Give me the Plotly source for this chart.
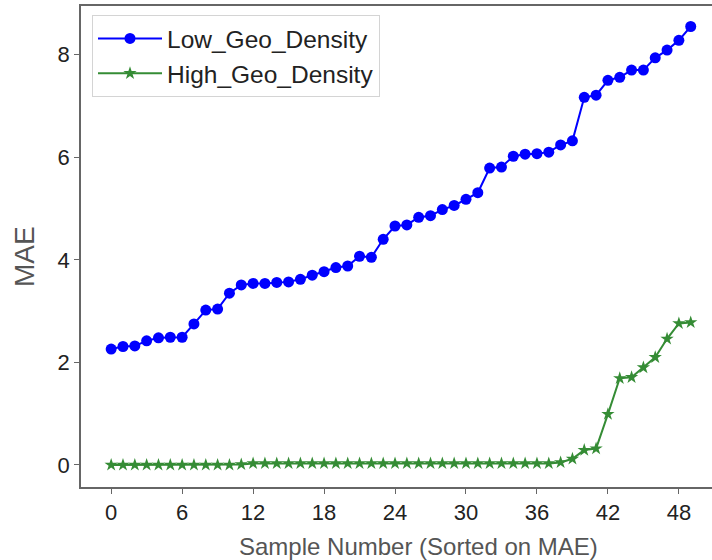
import plotly.graph_objects as go

sample_idx = list(range(50))
low_geo_density = [2.26, 2.31, 2.32, 2.42, 2.48, 2.49, 2.49, 2.75, 3.02, 3.04,
                   3.35, 3.51, 3.54, 3.54, 3.56, 3.57, 3.62, 3.70, 3.77, 3.85,
                   3.88, 4.07, 4.05, 4.40, 4.66, 4.68, 4.83, 4.86, 4.98, 5.06,
                   5.18, 5.31, 5.79, 5.81, 6.02, 6.06, 6.07, 6.10, 6.24, 6.32,
                   7.17, 7.21, 7.50, 7.56, 7.70, 7.70, 7.94, 8.09, 8.28, 8.55]
high_geo_density = [0.00, 0.00, 0.00, 0.00, 0.00, 0.00, 0.00, 0.00, 0.00, 0.00,
                    0.00, 0.01, 0.03, 0.03, 0.03, 0.03, 0.03, 0.03, 0.03, 0.03,
                    0.03, 0.03, 0.03, 0.03, 0.03, 0.03, 0.03, 0.03, 0.03, 0.03,
                    0.03, 0.03, 0.03, 0.03, 0.03, 0.03, 0.03, 0.03, 0.05, 0.12,
                    0.29, 0.32, 0.99, 1.69, 1.71, 1.90, 2.10, 2.46, 2.76, 2.78]
x_ticks = [0, 6, 12, 18, 24, 30, 36, 42, 48]
y_ticks = [0, 2, 4, 6, 8]

FONT = "Liberation Sans, Arial, sans-serif"
W, H = 712, 560
ML, MR, MT, MB = 81, 0, 6, 73

fig = go.Figure()
fig.add_trace(go.Scatter(
    x=sample_idx, y=low_geo_density, mode="lines+markers", name="Low_Geo_Density",
    legendgroup="a",
    line=dict(color="#0000ff", width=2),
    marker=dict(symbol="circle", size=11, color="#0000ff"),
))
fig.add_trace(go.Scatter(
    x=sample_idx, y=high_geo_density, mode="lines+markers", name="High_Geo_Density",
    legendgroup="b",
    line=dict(color="#358c35", width=2),
    marker=dict(symbol="star", size=10, color="#358c35"),
))

plot_w = W - ML - MR
plot_h = H - MT - MB

def px_x(p):
    return (p - ML) / plot_w

def px_y(p):
    return 1 - (p - MT) / plot_h

fig.update_layout(
    width=W, height=H,
    margin=dict(l=ML, r=MR, t=MT, b=MB, autoexpand=False),
    paper_bgcolor="white", plot_bgcolor="white",
    font=dict(family=FONT, color="#222222"),
    showlegend=True,
    legend=dict(
        x=px_x(92), y=px_y(15), xanchor="left", yanchor="top",
        bgcolor="white", bordercolor="#d4d4d4", borderwidth=1,
        font=dict(size=24.5, color="#222222", family=FONT),
        itemwidth=64, tracegroupgap=0,
    ),
    xaxis=dict(
        range=[-2.55, 50.8], tickmode="array", tickvals=x_ticks,
        showgrid=False, zeroline=False, automargin=False,
        showline=True, linecolor="#666666", linewidth=1.5, mirror=True,
        ticks="outside", ticklen=5, tickcolor="#666666",
        tickfont=dict(size=22, family=FONT, color="#222222"),
    ),
    yaxis=dict(
        range=[-0.43, 8.95], tickmode="array", tickvals=y_ticks,
        showgrid=False, zeroline=False, automargin=False,
        showline=True, linecolor="#666666", linewidth=1.5,
        ticks="outside", ticklen=5, tickcolor="#666666",
        tickfont=dict(size=22, family=FONT, color="#222222"),
    ),
    annotations=[
        dict(text="Sample Number (Sorted on MAE)", xref="paper", yref="paper",
             x=px_x(418), y=px_y(546), xanchor="center", yanchor="middle",
             showarrow=False, font=dict(size=24, family=FONT, color="#555555")),
        dict(text="MAE", xref="paper", yref="paper", textangle=-90,
             x=px_x(24), y=px_y(257), xanchor="center", yanchor="middle",
             showarrow=False, font=dict(size=28, family=FONT, color="#555555")),
    ],
)

fig.write_html(
    "out.html",
    config={"displayModeBar": False},
    post_script="document.body.style.margin='0';document.body.style.overflow='hidden';",
)
